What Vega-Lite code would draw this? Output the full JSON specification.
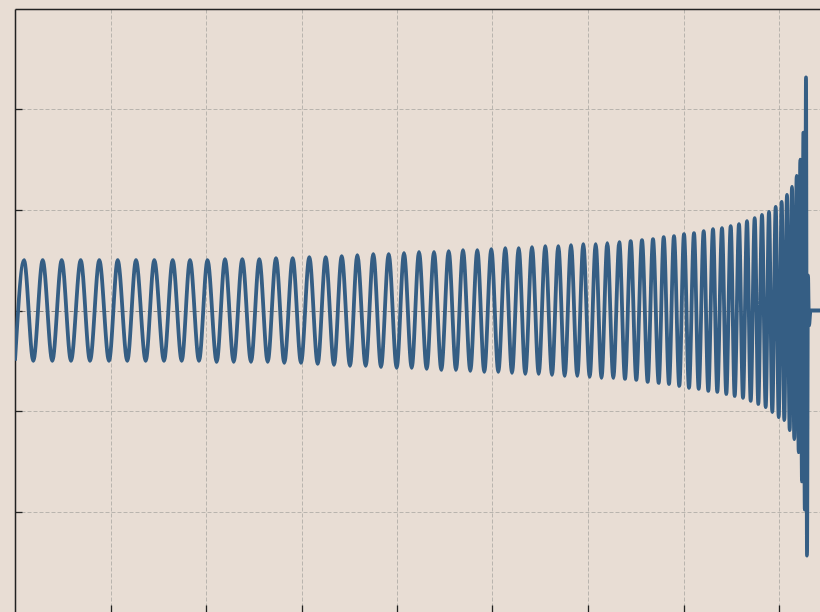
{
  "$schema": "https://vega.github.io/schema/vega-lite/v6.json",
  "width": 805,
  "height": 603,
  "autosize": {"type": "none"},
  "padding": {"left": 15, "top": 9, "right": 0, "bottom": 0},
  "background": "#e8ddd4",
  "config": {"view": {"stroke": null}},
  "data": {"values": [
    {"t": 15, "h": -0.50}, {"t": 24, "h": 0.50}, {"t": 33.3, "h": -0.50}, {"t": 42.7, "h": 0.50},
    {"t": 52.3, "h": -0.50}, {"t": 61.7, "h": 0.50}, {"t": 71, "h": -0.50}, {"t": 80.7, "h": 0.50},
    {"t": 90, "h": -0.50}, {"t": 99.3, "h": 0.50}, {"t": 109, "h": -0.50}, {"t": 117.7, "h": 0.50},
    {"t": 127.3, "h": -0.50}, {"t": 136, "h": 0.50}, {"t": 145.7, "h": -0.50}, {"t": 154.3, "h": 0.50},
    {"t": 164, "h": -0.50}, {"t": 172.7, "h": 0.50}, {"t": 181.7, "h": -0.50}, {"t": 190, "h": 0.50},
    {"t": 199, "h": -0.50}, {"t": 207.5, "h": 0.50}, {"t": 216.7, "h": -0.51}, {"t": 225, "h": 0.51},
    {"t": 233.7, "h": -0.51}, {"t": 242.3, "h": 0.51}, {"t": 251, "h": -0.51}, {"t": 259.3, "h": 0.51},
    {"t": 267.7, "h": -0.51}, {"t": 276, "h": 0.52}, {"t": 284.3, "h": -0.52}, {"t": 292.7, "h": 0.52},
    {"t": 301, "h": -0.52}, {"t": 309.3, "h": 0.53}, {"t": 317.7, "h": -0.53}, {"t": 325.7, "h": 0.53},
    {"t": 334, "h": -0.54}, {"t": 341.7, "h": 0.54}, {"t": 350, "h": -0.55}, {"t": 357.3, "h": 0.55},
    {"t": 365.7, "h": -0.55}, {"t": 373.3, "h": 0.56}, {"t": 381, "h": -0.56}, {"t": 388.7, "h": 0.56},
    {"t": 396.7, "h": -0.57}, {"t": 404, "h": 0.57}, {"t": 411.7, "h": -0.57}, {"t": 419, "h": 0.58},
    {"t": 426.7, "h": -0.58}, {"t": 434, "h": 0.58}, {"t": 441.3, "h": -0.59}, {"t": 448.7, "h": 0.59},
    {"t": 456, "h": -0.59}, {"t": 463, "h": 0.60}, {"t": 470.3, "h": -0.60}, {"t": 477.3, "h": 0.60},
    {"t": 484.3, "h": -0.61}, {"t": 491.3, "h": 0.61}, {"t": 498.3, "h": -0.61}, {"t": 505.3, "h": 0.62},
    {"t": 512, "h": -0.62}, {"t": 518.7, "h": 0.62}, {"t": 525.3, "h": -0.63}, {"t": 532, "h": 0.63},
    {"t": 538.7, "h": -0.63}, {"t": 545.3, "h": 0.64}, {"t": 552, "h": -0.64}, {"t": 558.3, "h": 0.64},
    {"t": 564.7, "h": -0.65}, {"t": 571, "h": 0.65}, {"t": 577.3, "h": -0.65}, {"t": 583.3, "h": 0.66},
    {"t": 589.7, "h": -0.66}, {"t": 595.7, "h": 0.66}, {"t": 601.5, "h": -0.67}, {"t": 607.3, "h": 0.67},
    {"t": 613.3, "h": -0.67}, {"t": 619.3, "h": 0.68}, {"t": 625, "h": -0.68}, {"t": 630.7, "h": 0.69},
    {"t": 636.3, "h": -0.69}, {"t": 642, "h": 0.70}, {"t": 647.7, "h": -0.71}, {"t": 653, "h": 0.71},
    {"t": 658.7, "h": -0.72}, {"t": 663.7, "h": 0.73}, {"t": 669, "h": -0.73}, {"t": 674, "h": 0.74},
    {"t": 679.3, "h": -0.75}, {"t": 684, "h": 0.76}, {"t": 689, "h": -0.77}, {"t": 694, "h": 0.77},
    {"t": 698.7, "h": -0.78}, {"t": 703.7, "h": 0.79}, {"t": 708.3, "h": -0.80}, {"t": 713, "h": 0.81},
    {"t": 717.3, "h": -0.81}, {"t": 722, "h": 0.82}, {"t": 726.3, "h": -0.83}, {"t": 730.7, "h": 0.84},
    {"t": 734.7, "h": -0.85}, {"t": 739, "h": 0.86}, {"t": 743, "h": -0.87}, {"t": 747, "h": 0.89},
    {"t": 750.7, "h": -0.90}, {"t": 754.7, "h": 0.92}, {"t": 758.3, "h": -0.93}, {"t": 762, "h": 0.95},
    {"t": 765.7, "h": -0.96}, {"t": 769, "h": 0.98}, {"t": 772.3, "h": -1.01}, {"t": 775.7, "h": 1.03},
    {"t": 778.7, "h": -1.06}, {"t": 781.7, "h": 1.08}, {"t": 784.3, "h": -1.09}, {"t": 787, "h": 1.15},
    {"t": 789.7, "h": -1.19}, {"t": 792, "h": 1.23}, {"t": 794.3, "h": -1.28}, {"t": 796.7, "h": 1.34},
    {"t": 798.7, "h": -1.41}, {"t": 800.3, "h": 1.50}, {"t": 802, "h": -1.70}, {"t": 803.4, "h": 1.77},
    {"t": 804.8, "h": -1.98}, {"t": 806, "h": 2.32}, {"t": 807, "h": -2.44}, {"t": 808, "h": 0.35},
    {"t": 809, "h": -0.15}, {"t": 810.5, "h": 0}, {"t": 820, "h": 0}
  ]},
  "layer": [
    {
      "mark": {"type": "line", "interpolate": "monotone", "color": "#355e84", "strokeWidth": 3.8, "strokeJoin": "round", "clip": true},
      "encoding": {
        "x": {
          "field": "t", "type": "quantitative",
          "scale": {"domain": [15, 820], "nice": false, "zero": false},
          "axis": {
            "orient": "bottom", "values": [110.5, 206, 301.5, 397, 492.5, 588, 683.5, 779],
            "domain": false, "labels": false, "title": null,
            "ticks": true, "tickSize": -7, "tickColor": "#222222", "tickWidth": 1.3,
            "grid": true, "gridColor": "#b9b4ae", "gridDash": [4, 2], "gridWidth": 1
          }
        },
        "y": {
          "field": "h", "type": "quantitative",
          "scale": {"domain": [-3, 3], "nice": false},
          "axis": {
            "orient": "left", "values": [-2, -1, 0, 1, 2],
            "domain": true, "domainColor": "#222222", "domainWidth": 1.5,
            "labels": false, "title": null,
            "ticks": true, "tickSize": -7, "tickColor": "#222222", "tickWidth": 1.3,
            "grid": true,
            "gridColor": {"condition": {"test": "datum.value === 0", "value": "#8a8580"}, "value": "#b9b4ae"},
            "gridDash": [4, 2], "gridWidth": 1
          }
        }
      }
    },
    {
      "mark": {"type": "rule", "opacity": 0},
      "encoding": {
        "x": {
          "field": "t", "type": "quantitative",
          "axis": {
            "orient": "top", "domain": true, "domainColor": "#222222", "domainWidth": 1.5,
            "ticks": false, "labels": false, "grid": false, "title": null
          }
        }
      }
    }
  ],
  "resolve": {"axis": {"x": "independent"}}
}
